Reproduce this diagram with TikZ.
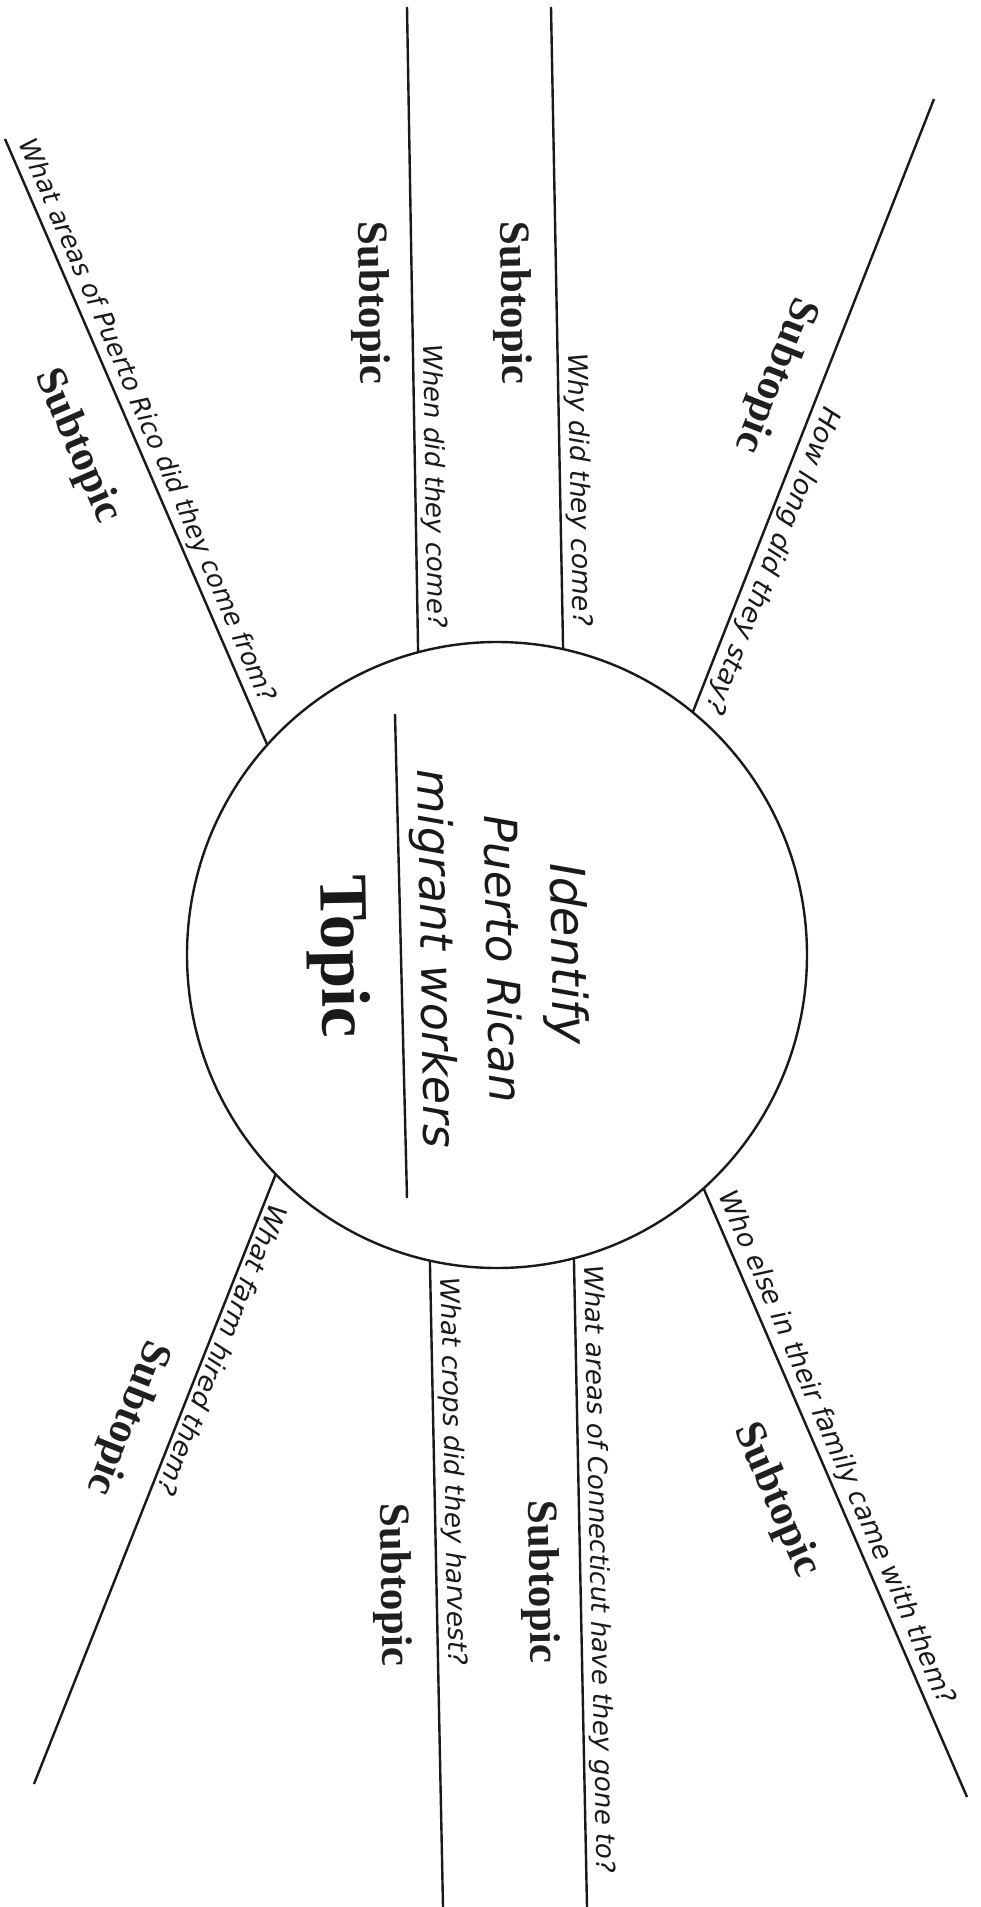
\documentclass[tikz,border=0pt]{standalone}
\usepackage{fontspec}
\setmainfont{Liberation Serif}
\newfontfamily\handfont{DejaVu Sans}
\usetikzlibrary{calc,intersections}
\newcommand{\hw}[2]{\resizebox{#1pt}{!}{\handfont\itshape #2}}
\begin{document}
\begin{tikzpicture}[x=1pt,y=-1pt,
  ray/.style={line width=2.4pt, draw=black!90},
  subt/.style={font=\fontsize{43}{50}\selectfont\bfseries, text=black!88, inner sep=0pt},
  qtext/.style={sloped, allow upside down, anchor=south, inner sep=4pt, text=black!90},
  ttext/.style={anchor=base, inner sep=0pt, text=black!90, rotate=-89},
]
\useasboundingbox (0,0) rectangle (981,1907);
\coordinate (c) at (497,955);
\draw[ray, name path=circ] (c) ellipse [x radius=310pt, y radius=313pt];

% outer ends and approximate inner ends of the rays
\coordinate (LTo) at (5,139);    \coordinate (LTi) at (266,742);
\coordinate (Ao)  at (407,7);    \coordinate (Ai)  at (418,645);
\coordinate (Bo)  at (551,7);    \coordinate (Bi)  at (563,645);
\coordinate (RTo) at (934,99);   \coordinate (RTi) at (696,704);
\coordinate (LBo) at (34,1784);  \coordinate (LBi) at (275,1176);
\coordinate (Co)  at (443,1907); \coordinate (Ci)  at (430,1265);
\coordinate (Do)  at (587,1907); \coordinate (Di)  at (574,1263);
\coordinate (RBo) at (967,1797); \coordinate (RBi) at (706,1194);

\foreach \r in {LT,A,B,RT,LB,C,D,RB}{
  \path[name path=p\r] (\r o) -- ($(\r o)!1.15!(\r i)$);
  \path[name intersections={of=circ and p\r, by=\r x}];
}

\draw[ray] (LTo) -- (LTx) node[qtext, pos=0.477] (qLT) {\hw{611}{What areas of Puerto Rico did they come from?}};
\draw[ray] (Ao) -- (Ax) node[qtext, pos=0.743] (qA) {\hw{284}{When did they come?}};
\draw[ray] (Bo) -- (Bx) node[qtext, pos=0.752] (qB) {\hw{273}{Why did they come?}};
\draw[ray] (RTo) -- (RTx) node[qtext, pos=0.742] (qRT) {\hw{327}{How long did they stay?}};
\draw[ray] (LBx) -- (LBo) node[qtext, pos=0.279] (qLB) {\hw{310}{What farm hired them?}};
\draw[ray] (Cx) -- (Co) node[qtext, pos=0.327] (qC) {\hw{388}{What crops did they harvest?}};
\draw[ray] (Dx) -- (Do) node[qtext, pos=0.480] (qD) {\hw{608}{What areas of Connecticut have they gone to?}};
\draw[ray] (RBx) -- (RBo) node[qtext, pos=0.439] (qRB) {\hw{557}{Who else in their family came with them?}};

% subtopic labels
\node[subt, rotate=-89]    (sA)  at (370,303)  {Subtopic};
\node[subt, rotate=-89]    (sB)  at (512,303)  {Subtopic};
\node[subt, rotate=-111.5] (sRT) at (775,375)  {Subtopic};
\node[subt, rotate=-66.6]  (sLT) at (77,446)   {Subtopic};
\node[subt, rotate=-111.6] (sLB) at (127,1418) {Subtopic};
\node[subt, rotate=-89]    (sC)  at (392,1585) {Subtopic};
\node[subt, rotate=-89]    (sD)  at (540,1582) {Subtopic};
\node[subt, rotate=-66.6]  (sRB) at (776,1500) {Subtopic};

% topic
\node[ttext, font=\fontsize{69}{80}\selectfont\bfseries] (topic) at (322,957) {Topic};
\coordinate (u1) at (395,714); \coordinate (u2) at (407,1198);
\draw[ray] (u1) -- (u2);
\node[ttext] (l1) at (552,954) {\hw{182}{Identify}};
\node[ttext] (l2) at (487,959) {\hw{288}{Puerto Rican}};
\node[ttext] (l3) at (421,959) {\hw{378}{migrant workers}};
\end{tikzpicture}
\end{document}
